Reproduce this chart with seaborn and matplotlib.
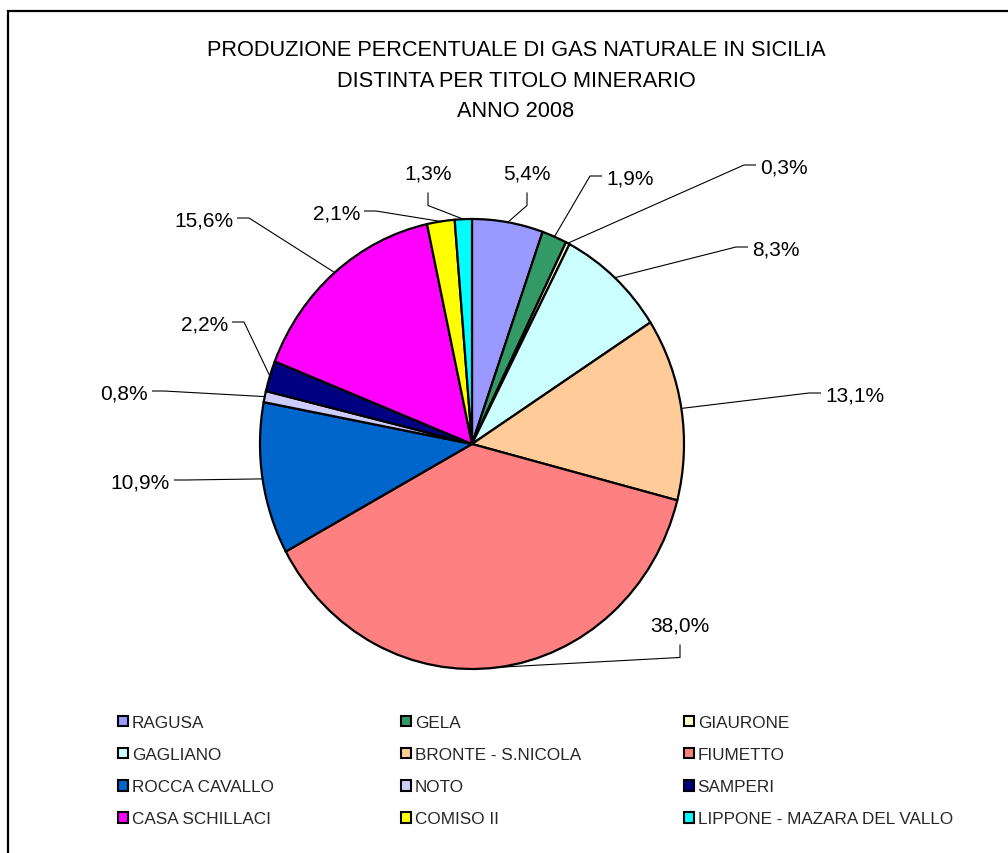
import matplotlib
matplotlib.use("Agg")
import matplotlib.pyplot as plt
from matplotlib.patches import Patch, Rectangle
import numpy as np
import seaborn as sns

# ---------------- data ----------------
categories = ["RAGUSA", "GELA", "GIAURONE", "GAGLIANO", "BRONTE - S.NICOLA",
              "FIUMETTO", "ROCCA CAVALLO", "NOTO", "SAMPERI", "CASA SCHILLACI",
              "COMISO II", "LIPPONE - MAZARA DEL VALLO"]
shares = [5.4, 1.9, 0.3, 8.3, 13.1, 38.0, 10.9, 0.8, 2.2, 15.6, 2.1, 1.3]
colors = ["#9999FF", "#339966", "#FFFFCC", "#CCFFFF", "#FFCC99", "#FF8080",
          "#0066CC", "#CCCCFF", "#000080", "#FF00FF", "#FFFF00", "#00FFFF"]
title_lines = ["PRODUZIONE PERCENTUALE DI GAS NATURALE IN SICILIA",
               "DISTINTA PER TITOLO MINERARIO",
               "ANNO 2008"]

# ---------------- layout ----------------
sns.set_theme(style="white")
plt.rcParams["font.family"] = ["Liberation Sans", "DejaVu Sans"]

W, H = 1008, 854
CX, CY, RX, RY = 472, 445, 212, 225          # pie centre / radii (pixels)
LABEL_FS = 15
TITLE_FS = 15.7
LEGEND_FS = 12.3

# label text positions (pixel centre of the digits) and side of the leader
label_layout = [
    (527, 172, "T"), (606, 177, "R"), (760, 166, "R"), (752, 248, "R"),
    (825, 394, "R"), (680, 624, "T"), (170, 481, "L"), (148, 392, "L"),
    (228, 323, "L"), (233, 219, "L"), (360, 212, "L"), (428, 172, "T"),
]

fig = plt.figure(figsize=(W / 100, H / 100), dpi=100)
ax = fig.add_axes([0, 0, 1, 1])


def P(px, py):
    return (px - CX) / RX, (CY - py) / RY


wedges, _ = ax.pie(shares, colors=colors, startangle=90, counterclock=False,
                   wedgeprops=dict(edgecolor="black", linewidth=1.6))
ax.set_aspect("auto")
ax.set_xlim(-CX / RX, (W - CX) / RX)
ax.set_ylim((CY - H) / RY, CY / RY)
ax.axis("off")

# percentage labels with leader lines
cap = 0.716 * LABEL_FS * 100 / 72
total = sum(shares)
cum = 0.0
for val, (px, py, side) in zip(shares, label_layout):
    mid = (cum + val / 2) / total * 2 * np.pi
    cum += val
    ax_, ay_ = np.sin(mid), np.cos(mid)
    txt = f"{val:.1f}%".replace(".", ",")
    if side == "T":
        ha = "center"
        s = (px, py + cap / 2 + 14)
        e = (px, py + cap / 2 + 27)
    elif side == "R":
        ha = "left"
        s = (px - 4, py)
        e = (px - 16, py)
    else:
        ha = "right"
        s = (px + 4, py)
        e = (px + 16, py)
    tx, ty = P(px, py + cap / 2)
    ax.text(tx, ty, txt, ha=ha, va="baseline", fontsize=LABEL_FS, color="black")
    xs = [P(*s)[0], P(*e)[0], ax_]
    ys = [P(*s)[1], P(*e)[1], ay_]
    ax.plot(xs, ys, color="black", lw=0.8, solid_capstyle="butt")

# title
tcap = 0.716 * TITLE_FS * 100 / 72
for line, yc in zip(title_lines, [48, 79, 109]):
    fig.text(516 / W, 1 - (yc + tcap / 2) / H, line, ha="center", va="baseline",
             fontsize=TITLE_FS, color="black")

# legend: three columns, row-major order
handles = [Patch(facecolor=c, edgecolor="black", linewidth=1.5) for c in colors]
col_x = [118, 401, 684]
top_y = 716
legs = []
for ci, x0 in enumerate(col_x):
    idx = list(range(ci, len(categories), 3))
    leg = fig.legend([handles[i] for i in idx], [categories[i] for i in idx],
                     loc="upper left", bbox_to_anchor=(x0 / W, 1 - top_y / H),
                     bbox_transform=fig.transFigure, frameon=False,
                     fontsize=LEGEND_FS, handlelength=0.6, handleheight=0.6,
                     handletextpad=0.2, labelspacing=1.0, borderpad=0,
                     borderaxespad=0)
    legs.append(leg)

# outer frame (clipped by the image on right and bottom)
fig.patches.append(Rectangle((8 / W, -0.1), 1.2, 1 - 12 / H + 0.1,
                             transform=fig.transFigure, fill=False,
                             edgecolor="black", linewidth=1.6))

fig.savefig("out.png", dpi=100)
